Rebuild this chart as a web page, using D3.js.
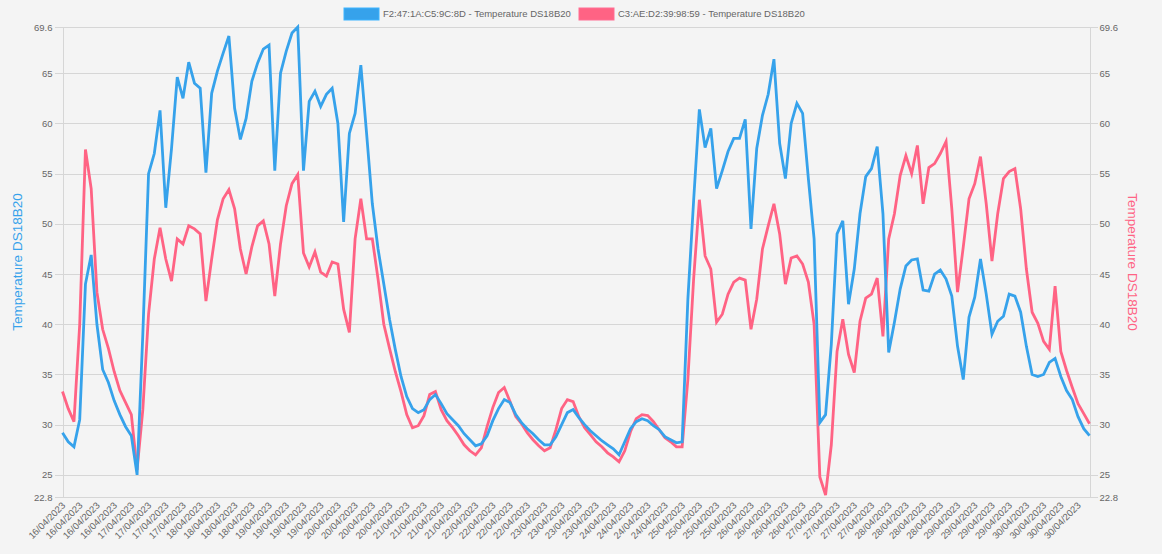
<!DOCTYPE html>
<html>
<head>
<meta charset="utf-8">
<script src="https://cdn.jsdelivr.net/npm/d3@7"></script>
<style>
  html, body { margin: 0; padding: 0; background: #f4f4f4; }
  svg { display: block; font-family: "Liberation Sans", Arial, sans-serif; }
</style>
</head>
<body>
<svg id="chart" width="1162" height="554"></svg>
<script>
// ---- data (one reading every 2 hours, 16/04/2023 00:00 -> 30/04/2023 22:00) ----
const seriesNames = ["F2:47:1A:C5:9C:8D - Temperature DS18B20", "C3:AE:D2:39:98:59 - Temperature DS18B20"];
const seriesColors = ["#36a2eb", "#ff6384"];
const startDay = 16;
const readingsPerDay = 12;

const sensorBlue = [
  29.2, 28.3, 27.8, 30.5, 44.0, 46.9, 40.0, 35.5, 34.2, 32.4, 31.0, 29.8,
  28.9, 25.0, 39.0, 55.0, 57.0, 61.3, 51.6, 57.5, 64.6, 62.5, 66.1, 64.0,
  63.5, 55.1, 63.0, 65.2, 67.0, 68.7, 61.5, 58.4, 60.5, 64.2, 66.0, 67.4,
  67.8, 55.3, 65.0, 67.2, 69.0, 69.6, 55.3, 62.2, 63.2, 61.7, 62.9, 63.5,
  60.0, 50.2, 59.0, 61.0, 65.8, 59.0, 52.0, 47.5, 44.0, 40.5, 37.5, 34.8,
  32.8, 31.6, 31.2, 31.5, 32.5, 33.0, 32.1, 31.1, 30.5, 29.9, 29.1, 28.5,
  27.9, 28.1, 28.9, 30.4, 31.6, 32.5, 32.2, 31.0, 30.2, 29.6, 29.1, 28.5,
  28.0, 28.0, 28.8, 30.0, 31.2, 31.5, 30.7, 30.0, 29.4, 28.9, 28.4, 28.0,
  27.6, 27.0, 28.3, 29.6, 30.3, 30.6, 30.4, 29.9, 29.5, 28.8, 28.5, 28.2,
  28.3, 42.5, 52.3, 61.4, 57.6, 59.5, 53.5, 55.3, 57.2, 58.5, 58.5, 60.4,
  49.5, 57.5, 60.8, 62.9, 66.4, 58.0, 54.5, 60.0, 62.0, 61.0, 54.5, 48.5,
  30.2, 31.0, 38.0, 49.0, 50.3, 42.0, 45.5, 51.0, 54.7, 55.5, 57.7, 51.0,
  37.2, 40.2, 43.5, 45.8, 46.4, 46.5, 43.4, 43.3, 45.0, 45.4, 44.5, 42.8,
  37.8, 34.5, 40.7, 42.7, 46.5, 43.0, 39.0, 40.3, 40.8, 43.0, 42.8, 41.2,
  37.8, 35.0, 34.8, 35.0, 36.2, 36.6, 34.8, 33.4, 32.5, 30.8, 29.6, 28.9
];

const sensorRed = [
  33.3, 31.6, 30.3, 40.0, 57.4, 53.5, 43.2, 39.5, 37.6, 35.3, 33.4, 32.2,
  31.0, 25.5, 31.5, 41.0, 46.5, 49.6, 46.5, 44.3, 48.5, 48.0, 49.8, 49.5,
  49.0, 42.3, 46.5, 50.4, 52.5, 53.4, 51.5, 47.5, 45.0, 47.7, 49.8, 50.3,
  48.0, 42.8, 48.0, 51.8, 54.0, 54.9, 47.1, 45.7, 47.2, 45.2, 44.8, 46.2,
  46.0, 41.5, 39.2, 48.5, 52.5, 48.5, 48.5, 44.5, 40.0, 37.6, 35.3, 33.3,
  31.0, 29.7, 29.9, 30.9, 33.0, 33.3, 31.5, 30.4, 29.7, 28.9, 28.0, 27.4,
  27.0, 27.7, 29.8, 31.7, 33.2, 33.7, 32.3, 30.8, 30.1, 29.2, 28.5, 27.9,
  27.4, 27.7, 29.5, 31.6, 32.5, 32.3, 30.8, 29.7, 29.0, 28.3, 27.8, 27.2,
  26.8, 26.3, 27.4, 29.3, 30.6, 31.0, 30.9, 30.3, 29.5, 28.7, 28.3, 27.8,
  27.8, 34.5, 44.5, 52.4, 46.8, 45.5, 40.2, 41.0, 43.0, 44.2, 44.6, 44.4,
  39.5, 42.5, 47.5, 49.8, 52.0, 49.0, 44.0, 46.6, 46.8, 46.0, 44.2, 40.0,
  24.8, 23.0, 28.0, 37.3, 40.5, 37.0, 35.2, 40.3, 42.6, 43.0, 44.6, 38.8,
  48.5, 51.0, 54.8, 56.8, 55.0, 57.8, 52.0, 55.6, 56.0, 57.0, 58.2, 51.5,
  43.2, 47.7, 52.5, 54.0, 56.7, 52.0, 46.3, 51.0, 54.5, 55.2, 55.5, 51.5,
  45.5, 41.2, 40.1, 38.3, 37.5, 43.8, 37.3, 35.4, 33.7, 32.1, 31.1, 30.1
];

const categoryLabels = sensorBlue.map((_, i) => {
  const d = startDay + Math.floor(i / readingsPerDay);
  return String(d).padStart(2, "0") + "/04/2023";
});
const labelStep = 3;
const yTickValues = [22.8, 25, 30, 35, 40, 45, 50, 55, 60, 65, 69.6];
const yMin = 22.8, yMax = 69.6;
const axisTitle = "Temperature DS18B20";

// ---- layout ----
const plot = { left: 62.5, right: 1089.5, top: 27, bottom: 497 };
const svg = d3.select("#chart");
const fontSize = "9.5px";
const textColor = "#666";
const gridColor = "#d6d6d6";

const x = d3.scalePoint().domain(d3.range(sensorBlue.length)).range([plot.left, plot.right]);
const y = d3.scaleLinear().domain([yMin, yMax]).range([plot.bottom, plot.top]);

// gridlines
const grid = svg.append("g").attr("transform", `translate(${plot.left},0)`)
  .call(d3.axisRight(y).tickValues(yTickValues).tickSize(plot.right - plot.left).tickFormat(""));
grid.select(".domain").remove();
grid.selectAll("line").attr("stroke", gridColor).attr("shape-rendering", "crispEdges");

const fmt = v => (Number.isInteger(v) ? String(v) : v.toFixed(1));
function styleAxis(g) {
  g.select(".domain").attr("stroke", gridColor).attr("shape-rendering", "crispEdges");
  g.selectAll("line").attr("stroke", gridColor).attr("shape-rendering", "crispEdges");
  g.selectAll("text").attr("fill", textColor).style("font-size", fontSize)
    .style("font-family", "Liberation Sans, Arial, sans-serif");
}
// left axis
svg.append("g").attr("transform", `translate(${plot.left},0)`)
  .call(d3.axisLeft(y).tickValues(yTickValues).tickSize(8).tickPadding(2).tickSizeOuter(0).tickFormat(fmt))
  .call(styleAxis);
// right axis
svg.append("g").attr("transform", `translate(${plot.right},0)`)
  .call(d3.axisRight(y).tickValues(yTickValues).tickSize(8).tickPadding(2).tickSizeOuter(0).tickFormat(fmt))
  .call(styleAxis);

// x axis (labels only)
const xTickIdx = d3.range(0, sensorBlue.length, labelStep);
const xa = svg.append("g").attr("transform", `translate(0,${plot.bottom})`)
  .call(d3.axisBottom(x).tickValues(xTickIdx).tickSize(0).tickFormat(i => categoryLabels[i]));
xa.select(".domain").remove();
xa.selectAll("text")
  .attr("fill", textColor)
  .style("font-size", fontSize)
  .style("font-family", "Liberation Sans, Arial, sans-serif")
  .attr("text-anchor", "end")
  .attr("dy", "0")
  .attr("y", 0)
  .attr("transform", "translate(3,9) rotate(-45)");

// axis titles
svg.append("text")
  .attr("transform", `translate(22,${(plot.top + plot.bottom) / 2}) rotate(-90)`)
  .attr("text-anchor", "middle")
  .attr("fill", seriesColors[0])
  .style("font-size", "13.5px")
  .text(axisTitle);
svg.append("text")
  .attr("transform", `translate(1128,${(plot.top + plot.bottom) / 2}) rotate(90)`)
  .attr("text-anchor", "middle")
  .attr("fill", seriesColors[1])
  .style("font-size", "13.5px")
  .text(axisTitle);

// lines (second dataset underneath, first on top)
const line = d3.line().x((d, i) => x(i)).y(d => y(d)).curve(d3.curveLinear);
const seriesData = [sensorBlue, sensorRed];
[1, 0].forEach(k => {
  svg.append("path")
    .datum(seriesData[k])
    .attr("fill", "none")
    .attr("stroke", seriesColors[k])
    .attr("stroke-width", 2.8)
    .attr("stroke-linejoin", "miter")
    .attr("d", line);
});

// legend
const legendX = [344, 579];
const leg = svg.append("g");
seriesNames.forEach((name, k) => {
  const g = leg.append("g").attr("transform", `translate(${legendX[k]},8)`);
  g.append("rect").attr("width", 35).attr("height", 12).attr("fill", seriesColors[k])
    .attr("stroke", d3.color(seriesColors[k]).brighter(0.3)).attr("stroke-width", 1);
  g.append("text").attr("x", 39).attr("y", 6).attr("dy", "0.35em")
    .attr("fill", textColor).style("font-size", fontSize).text(name);
});
</script>
</body>
</html>
